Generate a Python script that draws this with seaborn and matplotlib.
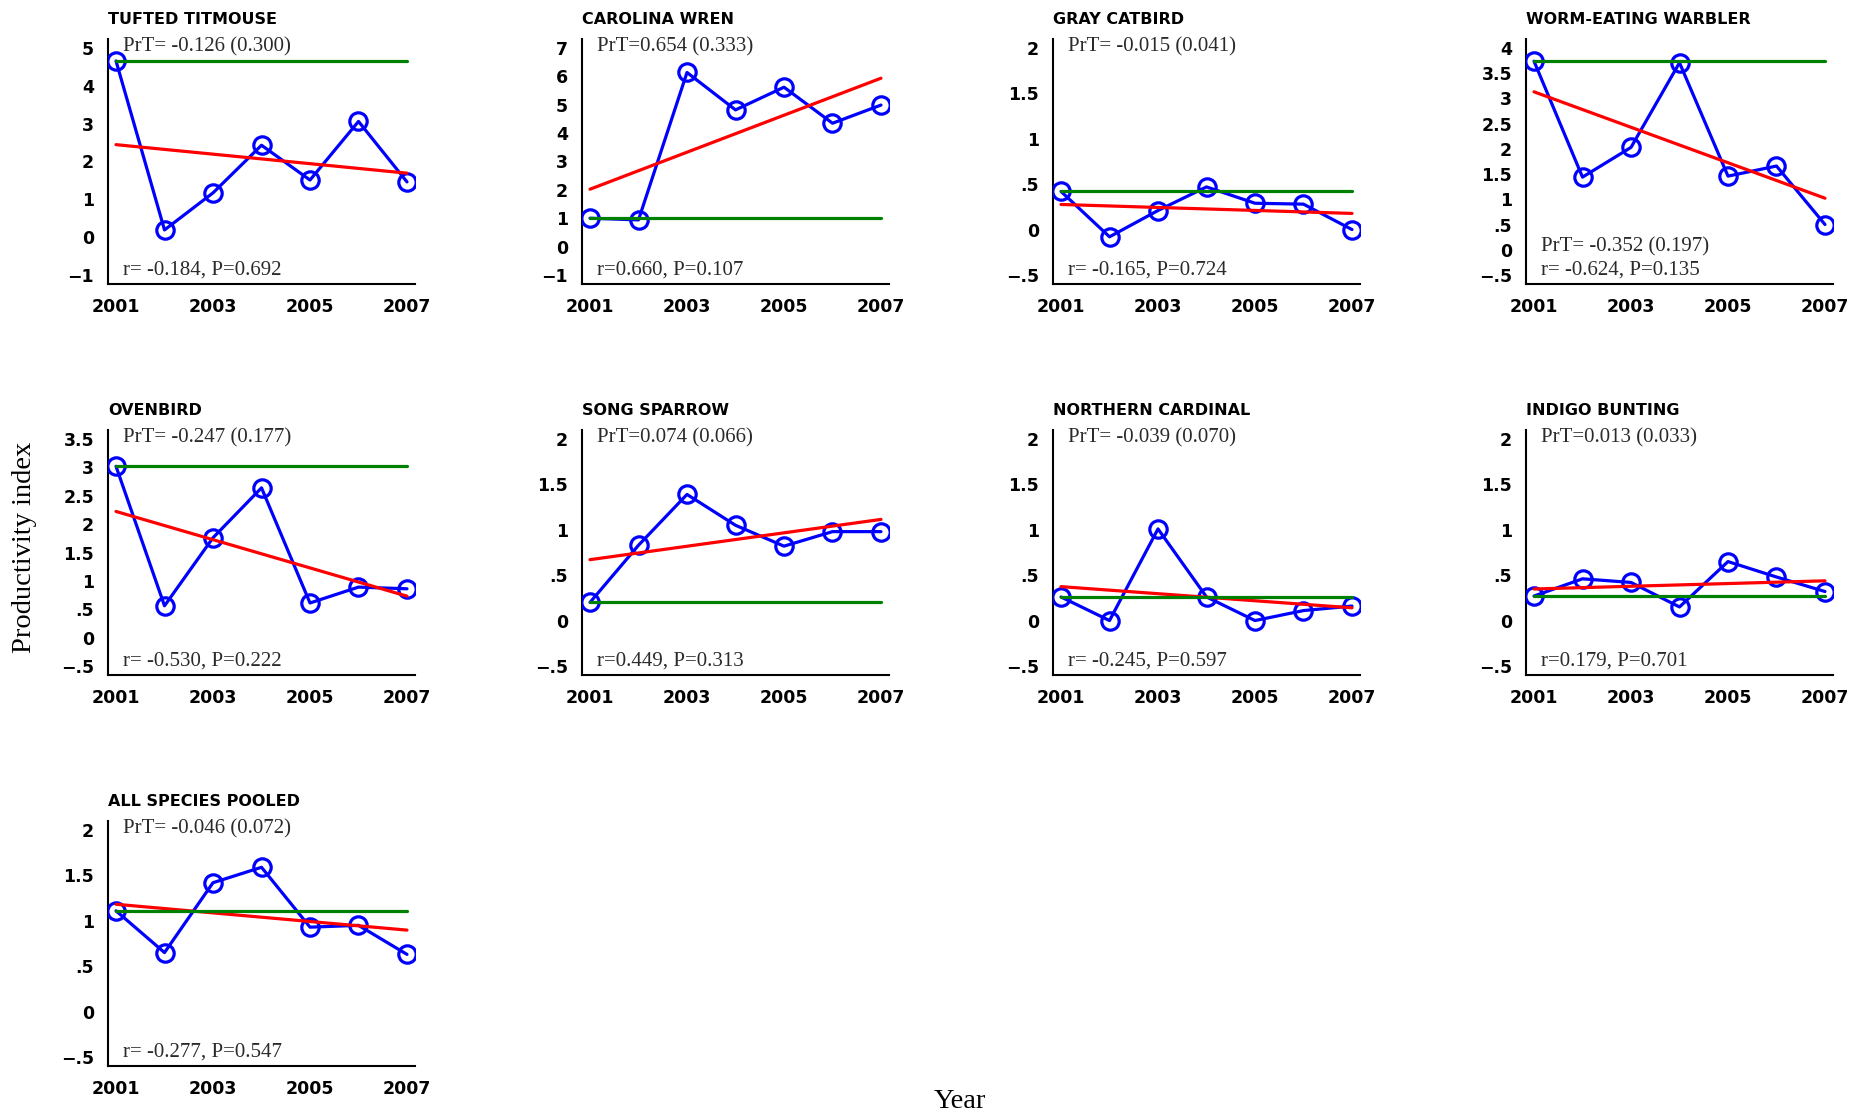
#!/usr/bin/env python
"""
Productivity index by year, 2001-2007, for eight species plus all species pooled.
"""

import matplotlib

matplotlib.use("Agg")
import matplotlib.pyplot as plt
import numpy as np
import pandas as pd
import seaborn as sns

years = [2001, 2002, 2003, 2004, 2005, 2006, 2007]

tufted_titmouse = [4.66, 0.19, 1.17, 2.43, 1.51, 3.06, 1.46]
carolina_wren = [1.00, 0.94, 6.14, 4.82, 5.62, 4.35, 4.99]
gray_catbird = [0.42, -0.08, 0.21, 0.47, 0.29, 0.28, 0.00]
worm_eating_warbler = [3.74, 1.44, 2.03, 3.71, 1.46, 1.66, 0.50]
ovenbird = [3.02, 0.56, 1.76, 2.64, 0.61, 0.89, 0.86]
song_sparrow = [0.20, 0.83, 1.39, 1.05, 0.82, 0.98, 0.98]
northern_cardinal = [0.26, 0.00, 1.01, 0.26, 0.00, 0.11, 0.16]
indigo_bunting = [0.27, 0.46, 0.42, 0.15, 0.65, 0.48, 0.32]
all_species_pooled = [1.11, 0.65, 1.42, 1.59, 0.93, 0.95, 0.63]

titles = [
    "TUFTED TITMOUSE", "CAROLINA WREN", "GRAY CATBIRD", "WORM-EATING WARBLER",
    "OVENBIRD", "SONG SPARROW", "NORTHERN CARDINAL", "INDIGO BUNTING",
    "ALL SPECIES POOLED",
]
series = [
    tufted_titmouse, carolina_wren, gray_catbird, worm_eating_warbler,
    ovenbird, song_sparrow, northern_cardinal, indigo_bunting, all_species_pooled,
]
prt_labels = [
    "PrT= -0.126 (0.300)", "PrT=0.654 (0.333)", "PrT= -0.015 (0.041)",
    "PrT= -0.352 (0.197)", "PrT= -0.247 (0.177)", "PrT=0.074 (0.066)",
    "PrT= -0.039 (0.070)", "PrT=0.013 (0.033)", "PrT= -0.046 (0.072)",
]
r_labels = [
    "r= -0.184, P=0.692", "r=0.660, P=0.107", "r= -0.165, P=0.724",
    "r= -0.624, P=0.135", "r= -0.530, P=0.222", "r=0.449, P=0.313",
    "r= -0.245, P=0.597", "r=0.179, P=0.701", "r= -0.277, P=0.547",
]
# y tick range per panel: (low, high, step)
y_ticks = [
    (-1, 5, 1), (-1, 7, 1), (-0.5, 2, 0.5), (-0.5, 4, 0.5),
    (-0.5, 3.5, 0.5), (-0.5, 2, 0.5), (-0.5, 2, 0.5), (-0.5, 2, 0.5),
    (-0.5, 2, 0.5),
]
x_ticks = [2001, 2003, 2005, 2007]


def tick_label(v):
    if float(v).is_integer():
        s = str(int(v))
    else:
        s = f"{v:g}"
        s = s.replace("0.", ".")
    return s.replace("-", "\u2212")


def main() -> None:
    sns.set_style("white")
    plt.rcParams["font.family"] = ["DejaVu Sans"]
    plt.rcParams["axes.unicode_minus"] = True

    W, H = 1854, 1113
    fig = plt.figure(figsize=(W / 100, H / 100), dpi=100)

    col_left = [108, 582, 1053, 1526]
    row_top = [39, 430, 821]
    ax_w, ax_h = 307, 245

    serif = "Liberation Serif"
    text_color = "#2a2a2a"

    for i, (title, vals) in enumerate(zip(titles, series)):
        r, c = divmod(i, 4)
        left = col_left[c] / W
        bottom = (H - row_top[r] - ax_h) / H
        ax = fig.add_axes([left, bottom, ax_w / W, ax_h / H])

        df = pd.DataFrame({"year": years, "index": vals})

        sns.lineplot(
            data=df, x="year", y="index", ax=ax, color="#0000ff",
            linewidth=2.3, marker="o", markersize=12.5,
            markerfacecolor="none", markeredgecolor="#0000ff",
            markeredgewidth=2.3, zorder=3,
        )
        sns.regplot(
            data=df, x="year", y="index", ax=ax, ci=None, scatter=False,
            truncate=True, line_kws={"color": "#ff0000", "linewidth": 2.3, "zorder": 4},
        )
        ax.plot(
            [years[0], years[-1]], [vals[0], vals[0]],
            color="#008000", linewidth=2.3, zorder=5,
        )

        lo, hi, step = y_ticks[i]
        ticks = np.arange(lo, hi + step / 2, step)
        pad = 0.04 * (hi - lo)
        ax.set_ylim(lo - pad, hi + pad)
        ax.set_yticks(ticks)
        ax.set_yticklabels([tick_label(t) for t in ticks])
        ax.set_xlim(2000.835, 2007.165)
        ax.set_xticks(x_ticks)
        ax.set_xticklabels([str(t) for t in x_ticks])
        ax.set_xlabel("")
        ax.set_ylabel("")

        sns.despine(ax=ax, top=True, right=True)
        for side in ("left", "bottom"):
            ax.spines[side].set_linewidth(1.5)
            ax.spines[side].set_color("black")
        ax.tick_params(
            axis="both", direction="out", length=4, width=1.5,
            pad=6, labelsize=12.5, colors="black",
        )
        for lab in ax.get_xticklabels() + ax.get_yticklabels():
            lab.set_fontweight("bold")

        ax.annotate(
            title, xy=(0, 1), xycoords="axes fraction", xytext=(0, 14),
            textcoords="offset points", ha="left", va="center",
            fontsize=11.5, fontweight="bold", color="black",
        )

        if i == 3:
            ax.text(0.05, 0.151, prt_labels[i], transform=ax.transAxes,
                    ha="left", va="center", fontsize=15, family=serif, color=text_color)
        else:
            ax.text(0.05, 0.967, prt_labels[i], transform=ax.transAxes,
                    ha="left", va="center", fontsize=15, family=serif, color=text_color)
        ax.text(0.05, 0.057, r_labels[i], transform=ax.transAxes,
                ha="left", va="center", fontsize=15, family=serif, color=text_color)

    fig.text(25 / W, 1 - 547 / H, "Productivity index", rotation=90,
             ha="center", va="center", fontsize=20.5, family=serif, color="black")
    fig.text(960 / W, 1 - 1101 / H, "Year", ha="center", va="center",
             fontsize=20.5, family=serif, color="black")

    fig.savefig("out.png", dpi=100)
    plt.close(fig)


if __name__ == "__main__":
    main()
